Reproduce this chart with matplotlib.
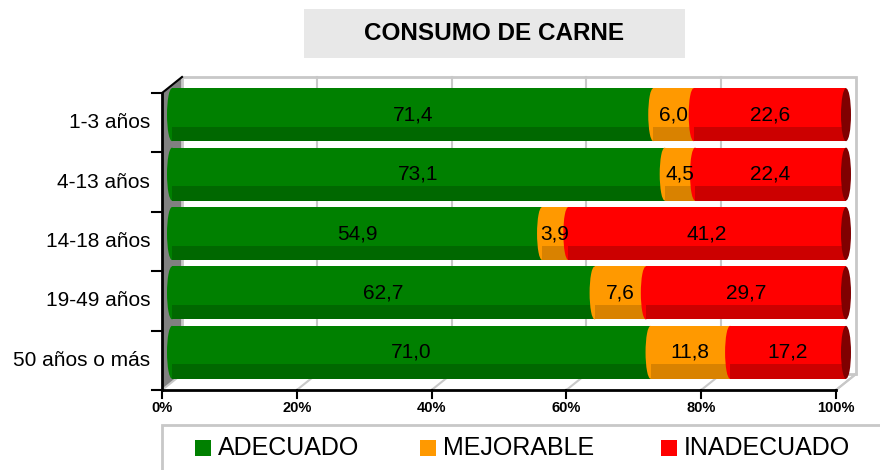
import matplotlib
matplotlib.use('Agg')
import matplotlib.pyplot as plt
from matplotlib.patches import Rectangle, Ellipse, Polygon

plt.rcParams['font.family'] = ['Liberation Sans', 'DejaVu Sans']

# data
groups = ['1-3 años', '4-13 años', '14-18 años', '19-49 años', '50 años o más']
adecuado = [71.4, 73.1, 54.9, 62.7, 71.0]
mejorable = [6.0, 4.5, 3.9, 7.6, 11.8]
inadecuado = [22.6, 22.4, 41.2, 29.7, 17.2]
series_names = ['ADECUADO', 'MEJORABLE', 'INADECUADO']
x_ticks = [0, 20, 40, 60, 80, 100]

colors = ['#008000', '#ff9900', '#ff0000']
darks = ['#006800', '#d98200', '#cc0000']
cap_dark = '#800000'
W, H = 880, 470


def fx(p):
    return p / W


def fy(p):
    return 1 - p / H


fig = plt.figure(figsize=(8.8, 4.7), dpi=100)

# axes placed so that data coords are the middle depth plane of the 3d box
ax = fig.add_axes([fx(140), fy(400), 730 / W, 340 / H])
ax.set_xlim(-4.75, 103.56)
ax.set_ylim(4.803, -0.921)
ax.axis('off')

sx = 6.74   # px per x unit
sy = 59.4   # px per row
dx = 10 / sx
dy = 8 / sy
top, bot = -0.5, len(groups) - 0.5
grey = '#c8c8c8'

# left side wall
ax.add_patch(Polygon([(-dx, top + dy), (dx, top - dy), (dx, bot - dy), (-dx, bot + dy)],
                     closed=True, facecolor='#808080', edgecolor='none', zorder=1))
# back wall + gridlines
ax.add_patch(Rectangle((dx, top - dy), 100, bot - top, facecolor='white',
                       edgecolor=grey, lw=2, zorder=1))
for t in x_ticks[1:-1]:
    ax.plot([t + dx, t + dx], [top - dy, bot - dy], color=grey, lw=1.5, zorder=1.5)
# floor lines
for t in x_ticks:
    ax.plot([t - dx, t + dx], [bot + dy, bot - dy], color=grey, lw=1.5, zorder=1.5)

# bars
bh = 0.89
band = bh * 0.27
ew = 10 / sx
values = [adecuado, mejorable, inadecuado]
z = 3
for i in range(len(groups)):
    left = 0
    for k, vals in enumerate(values):
        v = vals[i]
        ax.add_patch(Ellipse((left, i), ew, bh, facecolor=colors[k], edgecolor='none', zorder=z))
        ax.barh(i, v, left=left, height=bh, color=colors[k], zorder=z + 0.1)
        ax.barh(i + bh / 2 - band / 2, v, left=left, height=band, color=darks[k], zorder=z + 0.2)
        ax.text(left + v / 2, i, f'{v:.1f}'.replace('.', ','), ha='center', va='center',
                fontsize=15, color='black', zorder=200)
        left += v
        z += 1
    ax.add_patch(Ellipse((left, i), ew, bh, facecolor=cap_dark, edgecolor='none', zorder=z))
    z += 1

# front axes (black)
ax.plot([-dx, -dx], [top + dy, bot + dy], color='black', lw=2, zorder=150)
ax.plot([-dx, 100 - dx], [bot + dy, bot + dy], color='black', lw=2, zorder=150)
ax.plot([-dx, dx], [top + dy, top - dy], color='black', lw=1.5, zorder=150)
ax.plot([100 - dx, 100 + dx], [bot + dy, bot - dy], color=grey, lw=1.5, zorder=2)
for k in range(len(groups) + 1):
    yy = top + k + dy
    ax.plot([-dx - 10 / sx, -dx], [yy, yy], color='black', lw=1.5, zorder=150)
for t in x_ticks:
    ax.plot([t - dx, t - dx], [bot + dy, bot + dy + 8 / sy], color='black', lw=1.5, zorder=150)
    ax.text(t - dx, bot + dy + 18 / sy, f'{t}%', ha='center', va='center',
            fontsize=10.5, fontweight='bold')
for i, g in enumerate(groups):
    ax.text(-dx - 12 / sx, i + dy, g, ha='right', va='center', fontsize=15)

# title box
fig.patches.append(Rectangle((fx(304), fy(58)), 381 / W, 49 / H, transform=fig.transFigure,
                             facecolor='#e8e8e8', edgecolor='none'))
fig.text(fx(494), fy(34), 'CONSUMO DE CARNE', ha='center', va='center',
         fontsize=17.5, fontweight='bold')

# legend box
fig.patches.append(Rectangle((fx(162), fy(480)), 730 / W, 55 / H, transform=fig.transFigure,
                             facecolor='white', edgecolor=grey, lw=2))
leg_x = [195, 420, 661]
for k, name in enumerate(series_names):
    fig.patches.append(Rectangle((fx(leg_x[k]), fy(456)), 16 / W, 16 / H,
                                 transform=fig.transFigure, facecolor=colors[k],
                                 edgecolor='none'))
    fig.text(fx(leg_x[k] + 23), fy(448), name, ha='left', va='center', fontsize=18)

fig.savefig('out.png', dpi=100)
